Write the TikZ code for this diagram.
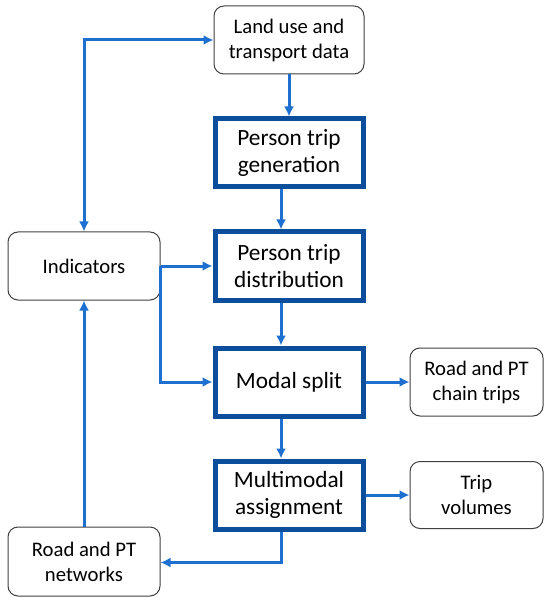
\documentclass[tikz,border=0pt]{standalone}
\usepackage{fontspec}
\setmainfont{Carlito}
\usepackage{tikz}
\usetikzlibrary{positioning,arrows.meta}
\definecolor{FlowBlue}{RGB}{30,112,208}
\definecolor{StageBorder}{RGB}{12,78,155}
\definecolor{DataBorder}{RGB}{64,64,64}

\begin{document}
\begin{tikzpicture}[
  x=1pt, y=-1pt,
  >={Latex[length=10pt,width=10pt]},
  data/.style={
    rectangle, rounded corners=10pt, draw=DataBorder, line width=1pt,
    fill=white, align=center, inner sep=2pt,
    font=\fontsize{20.7pt}{25pt}\selectfont
  },
  stage/.style={
    rectangle, draw=StageBorder, line width=5pt, fill=white,
    align=center, inner sep=2pt, minimum width=148pt, minimum height=68pt,
    font=\fontsize{23.3pt}{27.5pt}\selectfont
  },
  flow/.style={draw=FlowBlue, line width=3pt}
]
\useasboundingbox (0,0) rectangle (550,601);

% --- MODEL STEPS ---
\node[data, minimum width=150pt, minimum height=68pt] (land) at (289,40) {Land use and\\transport data};
\node[stage, below=42pt of land] (gen) {Person trip\\generation};
\node[stage, below=40pt of gen] (dist) {Person trip\\distribution};
\node[stage, below=43pt of dist] (modal) {Modal split};
\node[stage, below=40pt of modal] (assign) {Multimodal\\assignment};

% --- INPUTS / OUTPUTS ---
\node[data, minimum width=152pt, minimum height=68pt, left=52pt of dist] (ind) {Indicators};
\node[data, minimum width=152pt, minimum height=69pt, below=226pt of ind] (net) {Road and PT\\networks};
\node[data, minimum width=133pt, minimum height=68pt, right=44pt of modal] (chain) {Road and PT\\chain trips};
\node[data, minimum width=133pt, minimum height=67pt, right=44pt of assign] (vol) {Trip\\volumes};

% --- connectors ---
\draw[flow, ->] (land) -- (gen);
\draw[flow, ->] ([xshift=-8pt]gen.south) -- ([xshift=-8pt]dist.north);
\draw[flow, ->] ([xshift=-8pt]dist.south) -- ([xshift=-8pt]modal.north);
\draw[flow, ->] ([xshift=-8pt]modal.south) -- ([xshift=-8pt]assign.north);
\draw[flow, <->] (ind.north) |- (land.west);
\draw[flow, ->] (ind.east) -- (dist.west);
\draw[flow, ->] (ind.east) |- (modal.west);
\draw[flow, ->] (modal.east) -- (chain.west);
\draw[flow, ->] (assign.east) -- (vol.west);
\draw[flow, ->] ([xshift=-8pt]assign.south) |- ([yshift=-1pt]net.east);
\draw[flow, ->] (net.north) -- (ind.south);

\end{tikzpicture}
\end{document}
